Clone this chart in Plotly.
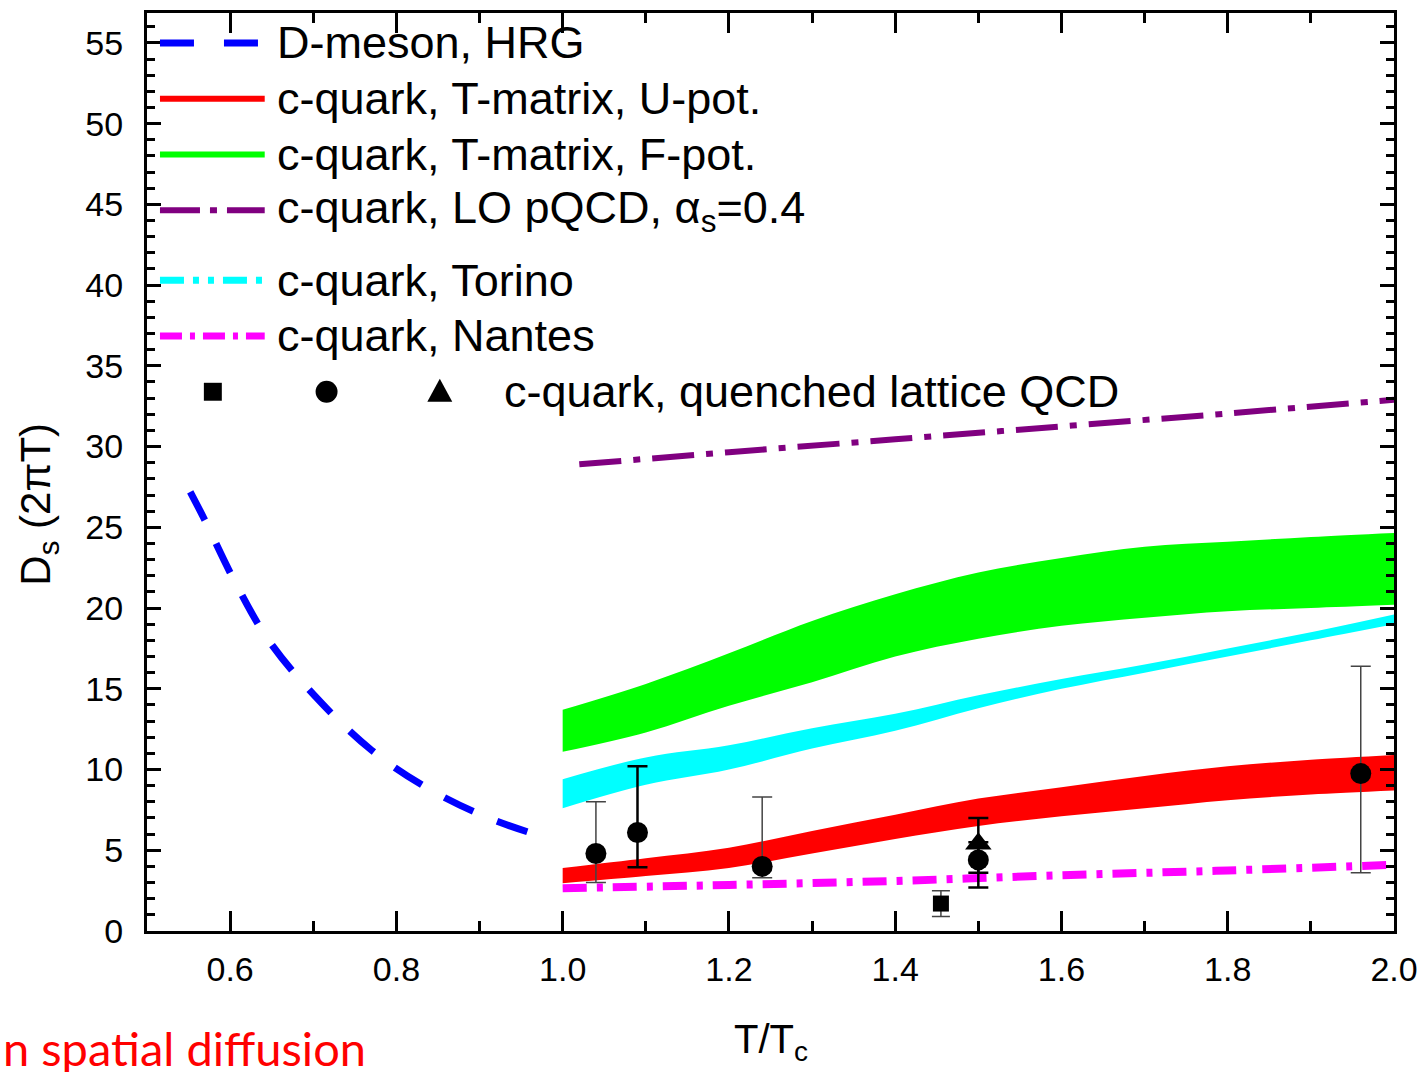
import plotly.graph_objects as go

# ---------------- data ----------------
hrg_x = [0.552, 0.569, 0.603, 0.645, 0.701, 0.770, 0.839, 0.911, 0.985]
hrg_y = [27.2, 25.5, 21.9, 18.1, 14.6, 11.2, 8.8, 7.0, 5.7]

band_x = [1.0, 1.1, 1.2, 1.3, 1.4, 1.5, 1.6, 1.7, 1.8, 1.9, 2.0]
fpot_up = [13.7, 15.3, 17.2, 19.2, 20.85, 22.2, 23.1, 23.8, 24.1, 24.4, 24.65]
fpot_lo = [11.1, 12.3, 13.95, 15.4, 17.0, 18.1, 18.9, 19.4, 19.8, 20.0, 20.2]
upot_up = [3.9, 4.5, 5.15, 6.2, 7.2, 8.2, 8.9, 9.6, 10.2, 10.6, 10.9]
upot_lo = [2.95, 3.4, 3.9, 4.8, 5.7, 6.5, 7.1, 7.6, 8.1, 8.45, 8.7]
torino_up = [9.4, 10.75, 11.5, 12.55, 13.45, 14.6, 15.6, 16.5, 17.5, 18.5, 19.6]
torino_lo = [7.6, 9.05, 10.0, 11.3, 12.4, 13.8, 15.0, 16.0, 17.0, 18.0, 19.0]

pqcd_x = [1.02, 1.2, 1.4, 1.6, 1.8, 2.0]
pqcd_y = [28.9, 29.65, 30.45, 31.25, 32.05, 32.9]

nantes_x = [1.0, 1.2, 1.4, 1.6, 1.8, 2.0]
nantes_y = [2.65, 2.85, 3.1, 3.45, 3.75, 4.1]

# lattice QCD points
circ_thin_x = [1.04, 1.24, 1.96]
circ_thin_y = [4.8, 4.0, 9.75]
circ_thin_ep = [3.2, 4.3, 6.65]
circ_thin_em = [1.8, 0.7, 6.15]

circ_thick_x = [1.09, 1.50]
circ_thick_y = [6.1, 4.4]
circ_thick_ep = [4.1, 1.1]
circ_thick_em = [2.15, 1.7]

tri_x = [1.50]
tri_y = [5.4]
tri_ep = [1.6]
tri_em = [1.8]

sq_x = [1.455]
sq_y = [1.7]
sq_ep = [0.8]
sq_em = [0.8]

legend_labels = [
    "D-meson, HRG",
    "c-quark, T-matrix, U-pot.",
    "c-quark, T-matrix, F-pot.",
    "c-quark, LO pQCD, α<sub>s</sub>=0.4",
    "c-quark, Torino",
    "c-quark, Nantes",
    "c-quark, quenched lattice QCD",
]
x_ticks = [0.6, 0.8, 1.0, 1.2, 1.4, 1.6, 1.8, 2.0]
y_ticks = [0, 5, 10, 15, 20, 25, 30, 35, 40, 45, 50, 55]

BLUE = "#0000ff"
RED = "#ff0000"
GREEN = "#00ff00"
PURPLE = "#800080"
CYAN = "#00ffff"
MAGENTA = "#ff00ff"

FONT = "Liberation Sans, Arial"

fig = go.Figure()


def band(lo, up, color):
    fig.add_trace(go.Scatter(x=band_x, y=lo, mode="lines", line=dict(width=0, color=color, shape="spline"),
                             showlegend=False, hoverinfo="skip"))
    fig.add_trace(go.Scatter(x=band_x, y=up, mode="lines", line=dict(width=0, color=color, shape="spline"),
                             fill="tonexty", fillcolor=color, showlegend=False, hoverinfo="skip"))


band(fpot_lo, fpot_up, GREEN)
band(torino_lo, torino_up, CYAN)
band(upot_lo, upot_up, RED)

fig.add_trace(go.Scatter(x=hrg_x, y=hrg_y, mode="lines",
                         line=dict(color=BLUE, width=7, dash="32px,26px", shape="spline"), showlegend=False))
fig.add_trace(go.Scatter(x=pqcd_x, y=pqcd_y, mode="lines",
                         line=dict(color=PURPLE, width=6, dash="42px,12px,7px,12px", shape="spline"), showlegend=False))
fig.add_trace(go.Scatter(x=nantes_x, y=nantes_y, mode="lines",
                         line=dict(color=MAGENTA, width=8, dash="24px,10px,6px,10px", shape="spline"), showlegend=False))

fig.add_trace(go.Scatter(x=sq_x, y=sq_y, mode="markers",
                         marker=dict(symbol="square", size=16, color="black"),
                         error_y=dict(type="data", symmetric=False, array=sq_ep, arrayminus=sq_em,
                                      color="#444444", thickness=1.5, width=9), showlegend=False))
fig.add_trace(go.Scatter(x=circ_thin_x, y=circ_thin_y, mode="markers",
                         marker=dict(symbol="circle", size=21, color="black"),
                         error_y=dict(type="data", symmetric=False, array=circ_thin_ep, arrayminus=circ_thin_em,
                                      color="#444444", thickness=1.5, width=10), showlegend=False))
fig.add_trace(go.Scatter(x=circ_thick_x, y=circ_thick_y, mode="markers",
                         marker=dict(symbol="circle", size=21, color="black"),
                         error_y=dict(type="data", symmetric=False, array=circ_thick_ep, arrayminus=circ_thick_em,
                                      color="black", thickness=2.5, width=10), showlegend=False))
fig.add_trace(go.Scatter(x=tri_x, y=tri_y, mode="markers",
                         marker=dict(symbol="triangle-up", size=23, color="black"),
                         error_y=dict(type="data", symmetric=False, array=tri_ep, arrayminus=tri_em,
                                      color="black", thickness=2.5, width=10), showlegend=False))

# ---------------- manual legend (layout) ----------------
L, T, W, H = 147, 10, 1250, 921  # plot area in px


def px(xp):
    return (xp - L) / W


def py(yp):
    return (T + H - yp) / H


rows = [40, 96, 152, 208, 278, 334, 390]
styles = [
    (BLUE, 7, "34px,30px"),
    (RED, 6, "solid"),
    (GREEN, 6, "solid"),
    (PURPLE, 6, "40px,10px,7px,10px"),
    (CYAN, 7, "24px,9px,6px,9px,6px,9px"),
    (MAGENTA, 7, "22px,8px,5px,8px"),
]
shapes = []
for (col, w, d), r in zip(styles, rows[:6]):
    shapes.append(dict(type="line", xref="paper", yref="paper", x0=px(160), x1=px(265),
                       y0=py(r), y1=py(r), line=dict(color=col, width=w, dash=d)))
shapes.append(dict(type="rect", xref="paper", yref="paper", x0=px(204), x1=px(222), y0=py(399), y1=py(381),
                   fillcolor="black", line=dict(width=0)))
shapes.append(dict(type="circle", xref="paper", yref="paper", x0=px(316), x1=px(338), y0=py(401), y1=py(379),
                   fillcolor="black", line=dict(width=0)))
shapes.append(dict(type="path", xref="paper", yref="paper",
                   path=f"M {px(428)} {py(400)} L {px(453)} {py(400)} L {px(440.5)} {py(377)} Z",
                   fillcolor="black", line=dict(width=0)))

annotations = []
for lab, r in zip(legend_labels[:6], rows[:6]):
    annotations.append(dict(text=lab, xref="paper", yref="paper", x=px(275), y=py(r), xanchor="left",
                            yanchor="middle", showarrow=False,
                            font=dict(family=FONT, size=45, color="black")))
annotations.append(dict(text=legend_labels[6], xref="paper", yref="paper", x=px(503), y=py(rows[6]),
                        xanchor="left", yanchor="middle", showarrow=False,
                        font=dict(family=FONT, size=45, color="black")))
# axis titles
annotations.append(dict(text="D<sub>s</sub> (2πT)", xref="paper", yref="paper", x=px(38), y=py(503),
                        xanchor="center", yanchor="middle", textangle=-90, showarrow=False,
                        font=dict(family=FONT, size=42, color="black")))
annotations.append(dict(text="T/T<sub>c</sub>", xref="paper", yref="paper", x=px(772), y=py(1042),
                        xanchor="center", yanchor="middle", showarrow=False,
                        font=dict(family=FONT, size=40, color="black")))
annotations.append(dict(text="n spatial diffusion", xref="paper", yref="paper", x=px(1), y=py(1048),
                        xanchor="left", yanchor="middle", showarrow=False,
                        font=dict(family="Lato", size=47, color="#ff0000")))

axis_common = dict(showline=True, linecolor="black", linewidth=3, mirror="allticks", ticks="inside",
                   tickcolor="black", tickwidth=2.5, showgrid=False, zeroline=False,
                   tickfont=dict(family=FONT, size=34, color="black"))

fig.update_layout(
    width=1428, height=1072,
    margin=dict(l=L, r=1428 - L - W, t=T, b=1072 - T - H),
    paper_bgcolor="white", plot_bgcolor="white",
    shapes=shapes, annotations=annotations, showlegend=False,
    xaxis=dict(range=[0.5, 2.0], tickvals=x_ticks, ticktext=[f"{v:.1f}" for v in x_ticks], ticklen=20,
               ticklabelstandoff=6,
               minor=dict(dtick=0.1, tick0=0.5, ticklen=10, ticks="inside", tickwidth=2.5, tickcolor="black"),
               **axis_common),
    yaxis=dict(range=[0, 56.85], tickvals=y_ticks, ticklen=14, ticklabelstandoff=14,
               minor=dict(dtick=1, tick0=0, ticklen=8, ticks="inside", tickwidth=2.5, tickcolor="black"),
               **axis_common),
)

fig.write_html("out.html", config={"displayModeBar": False},
               post_script="document.body.style.margin='0px';document.body.style.overflow='hidden';")
